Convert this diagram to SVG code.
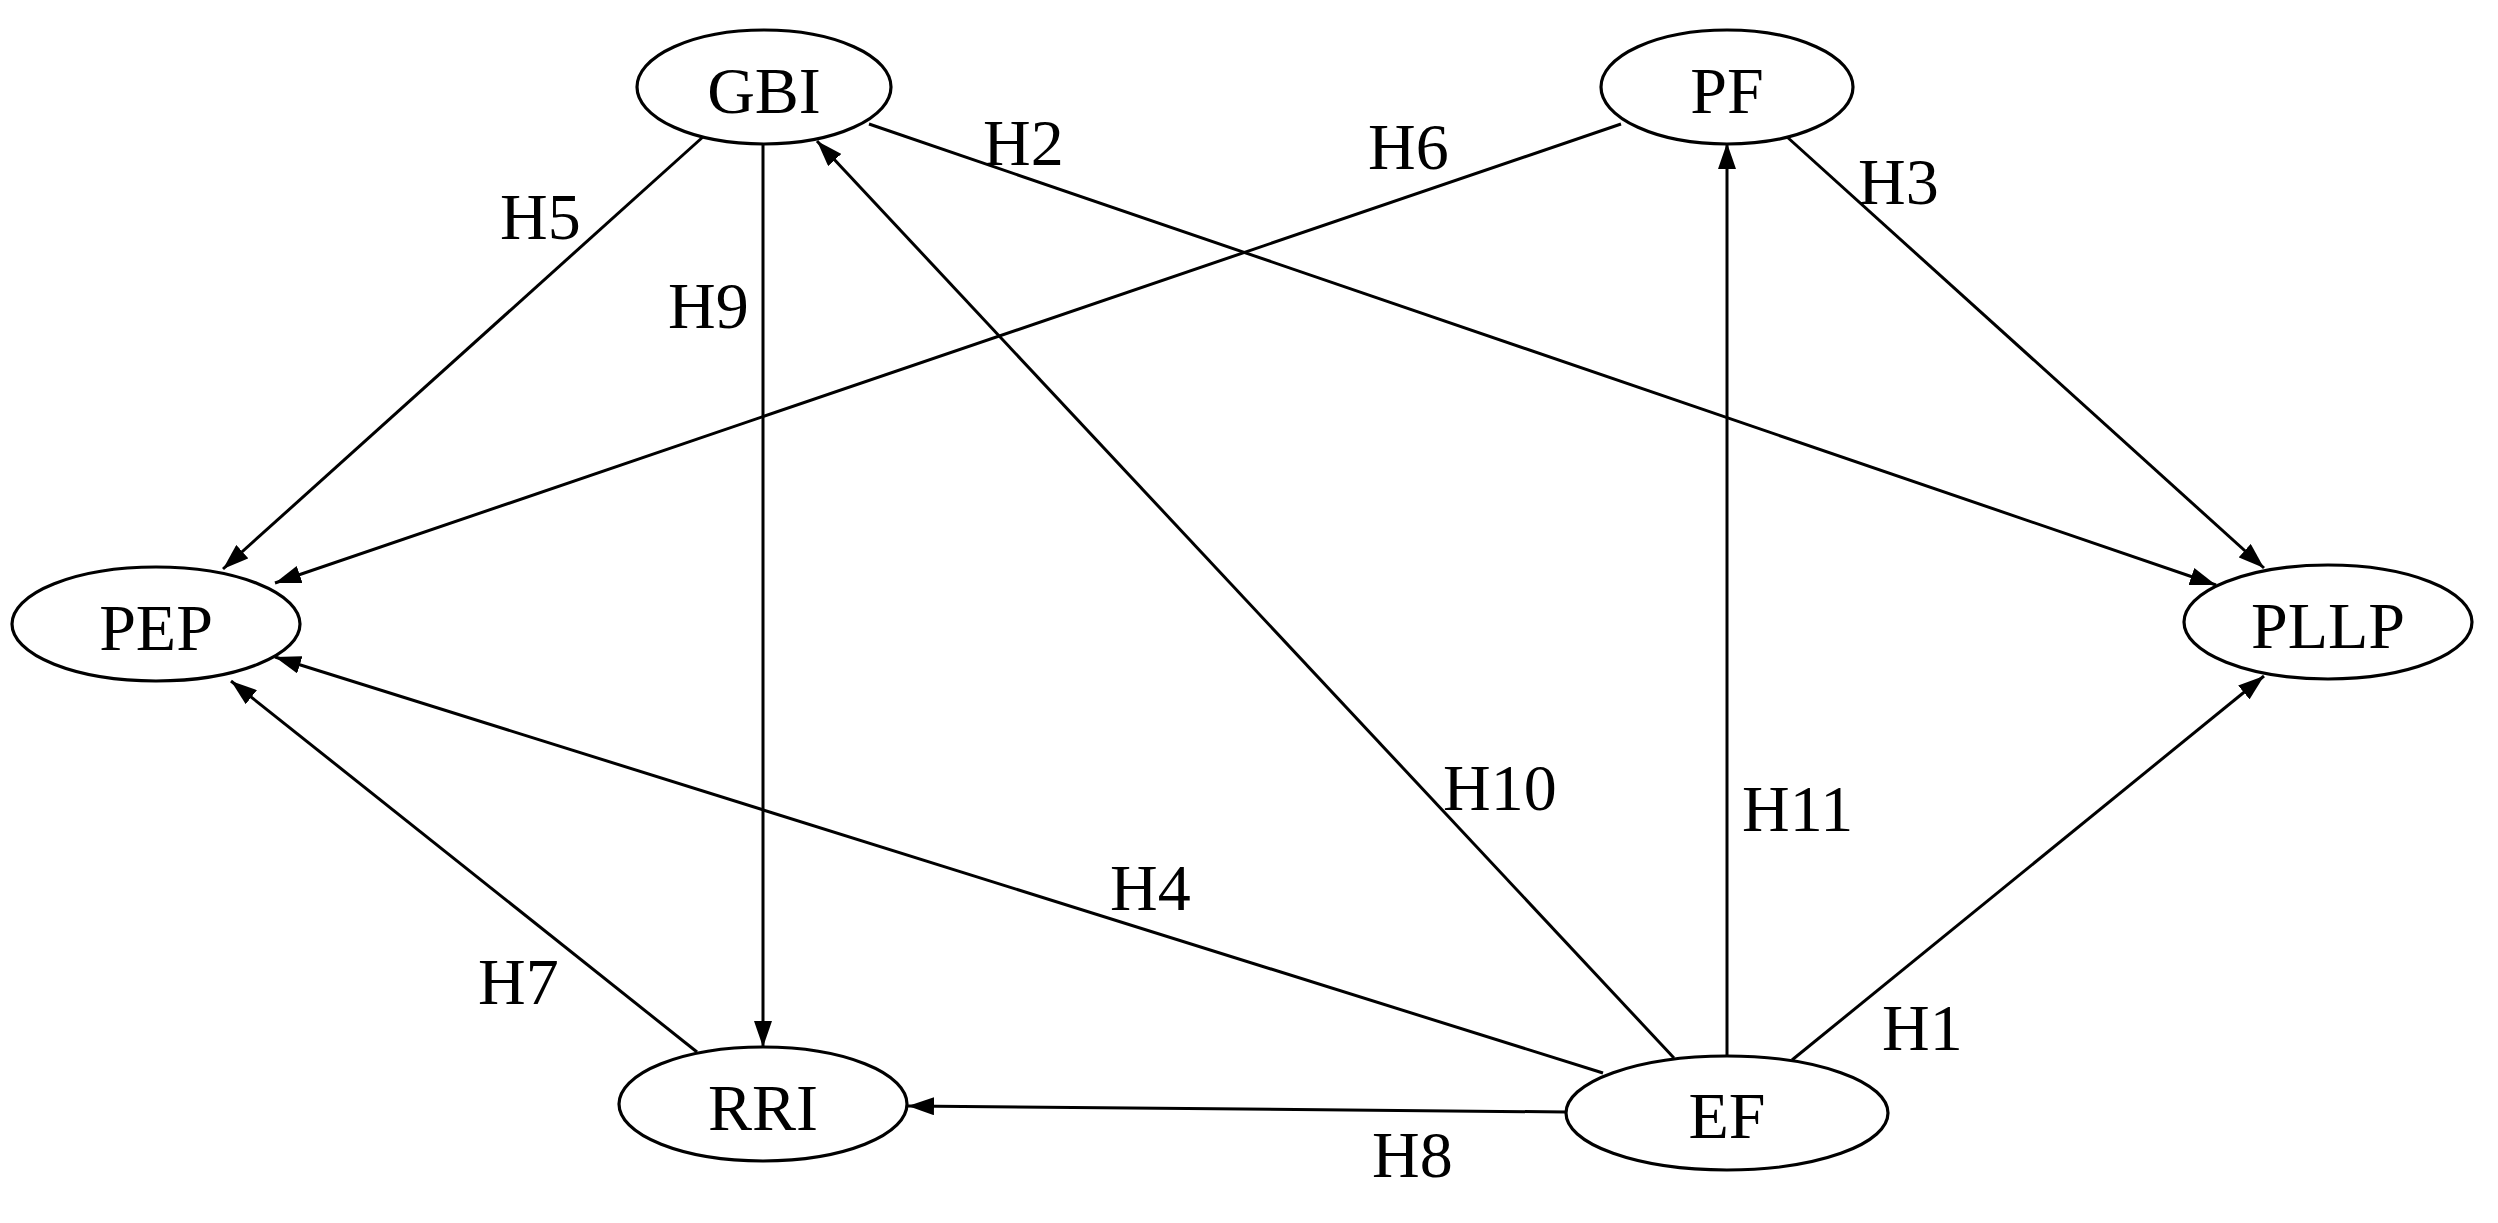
<svg xmlns="http://www.w3.org/2000/svg" width="2498" height="1223" viewBox="0 0 2498 1223">
<style>
.node ellipse{fill:#fff;stroke:#000;stroke-width:3.2}
.node text{font-family:"Liberation Serif","Times New Roman",serif;font-size:66px;text-anchor:middle;fill:#000}
.edge line{stroke:#000;stroke-width:3;marker-end:url(#arr)}
.lbl{font-family:"Liberation Serif","Times New Roman",serif;font-size:66px;fill:#000}
</style>
<defs>
<marker id="arr" markerUnits="userSpaceOnUse" markerWidth="28" markerHeight="18" refX="26" refY="9" orient="auto">
<path d="M0,0 L26,9 L0,18 z" fill="#000"/>
</marker>
</defs>
<rect width="2498" height="1223" fill="#fff"/>
<g id="connectors" class="edge">
<line x1="704" y1="136" x2="223" y2="569"/>
<line x1="763" y1="143" x2="763" y2="1047"/>
<line x1="869" y1="124" x2="2216" y2="585"/>
<line x1="1621" y1="124" x2="275" y2="583"/>
<line x1="1786" y1="136" x2="2264" y2="568"/>
<line x1="1674" y1="1058" x2="817" y2="141"/>
<line x1="1727" y1="1057" x2="1727" y2="143"/>
<line x1="1792" y1="1060" x2="2264" y2="676"/>
<line x1="1603" y1="1073" x2="275" y2="657"/>
<line x1="697" y1="1052" x2="231" y2="681"/>
<line x1="1566" y1="1112" x2="908" y2="1106"/>
</g>
<g id="labels">
<text class="lbl" x="500" y="239">H5</text>
<text class="lbl" x="668" y="328">H9</text>
<text class="lbl" x="983" y="165">H2</text>
<text class="lbl" x="1368" y="169">H6</text>
<text class="lbl" x="1858" y="204">H3</text>
<text class="lbl" x="1443" y="810">H10</text>
<text class="lbl" x="1742" y="831">H11</text>
<text class="lbl" x="1882" y="1050">H1</text>
<text class="lbl" x="1372" y="1177">H8</text>
<text class="lbl" x="1110" y="910">H4</text>
<text class="lbl" x="478" y="1004">H7</text>
</g>
<g id="node-GBI" class="node"><ellipse cx="764" cy="87" rx="127" ry="57"/><text x="764" y="113">GBI</text></g>
<g id="node-PF" class="node"><ellipse cx="1727" cy="87" rx="126" ry="57"/><text x="1727" y="113">PF</text></g>
<g id="node-PEP" class="node"><ellipse cx="156" cy="624" rx="144" ry="57"/><text x="156" y="650">PEP</text></g>
<g id="node-PLLP" class="node"><ellipse cx="2328" cy="622" rx="144" ry="57"/><text x="2328" y="648">PLLP</text></g>
<g id="node-RRI" class="node"><ellipse cx="763" cy="1104" rx="144" ry="57"/><text x="763" y="1130">RRI</text></g>
<g id="node-EF" class="node"><ellipse cx="1727" cy="1113" rx="161" ry="57"/><text x="1727" y="1138">EF</text></g>
</svg>
